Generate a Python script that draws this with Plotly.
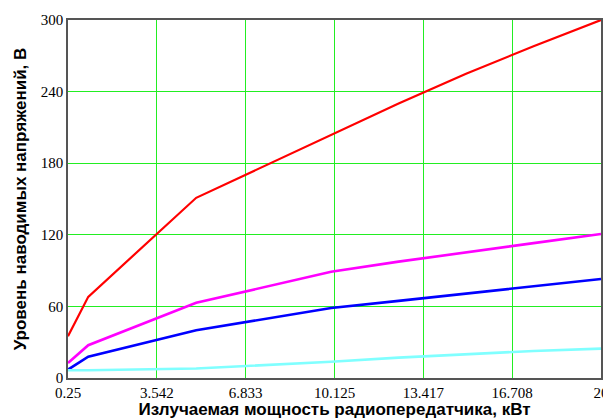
import plotly.graph_objects as go

# Data
power_kw = [0.25, 1, 5, 10, 12.5, 15, 17.5, 20]
red_v = [35, 68, 151, 204, 230, 255, 278, 300]
magenta_v = [12.5, 27.5, 63, 89, 97.5, 105.5, 113, 120.7]
blue_v = [7, 17.8, 40, 58.7, 64.6, 70.8, 77, 83]
cyan_v = [6.5, 6.5, 8, 13.6, 17.1, 20.1, 22.6, 24.6]

x_ticks = [0.25, 3.542, 6.833, 10.125, 13.417, 16.708, 20]
x_tick_labels = ["0.25", "3.542", "6.833", "10.125", "13.417", "16.708", "20"]
y_ticks = [0, 60, 120, 180, 240, 300]

series = [
    (red_v, "#ff0000", 2.2),
    (magenta_v, "#ff00ff", 2.6),
    (blue_v, "#0000ff", 2.6),
    (cyan_v, "#80ffff", 2.6),
]

fig = go.Figure()
for vals, color, w in series:
    fig.add_trace(go.Scatter(x=power_kw, y=vals, mode="lines",
                             line=dict(color=color, width=w), showlegend=False))

axis_common = dict(
    showline=True, mirror=True, linecolor="#555555", linewidth=1.5,
    showgrid=True, gridcolor="#22ee22", gridwidth=1,
    zeroline=False, ticks="", automargin=False,
    tickfont=dict(family="Liberation Serif", size=15, color="#000000"),
)

title_font = dict(family="Liberation Sans", size=17, color="#000000", weight="bold")

# the page body adds an 8px offset, so the figure is sized 8px smaller
fig.update_layout(
    width=603, height=411,
    margin=dict(l=60, r=10, t=12, b=41),
    paper_bgcolor="white", plot_bgcolor="white",
    xaxis=dict(
        range=[0.25, 20], tickvals=x_ticks, ticktext=x_tick_labels,
        title=dict(text="Излучаемая мощность радиопередатчика, кВт",
                   font=title_font, standoff=2),
        **axis_common,
    ),
    yaxis=dict(
        range=[0, 300], tickvals=y_ticks,
        title=dict(text="Уровень наводимых напряжений, В",
                   font=title_font, standoff=10),
        **axis_common,
    ),
)

fig.write_html("out.html")
